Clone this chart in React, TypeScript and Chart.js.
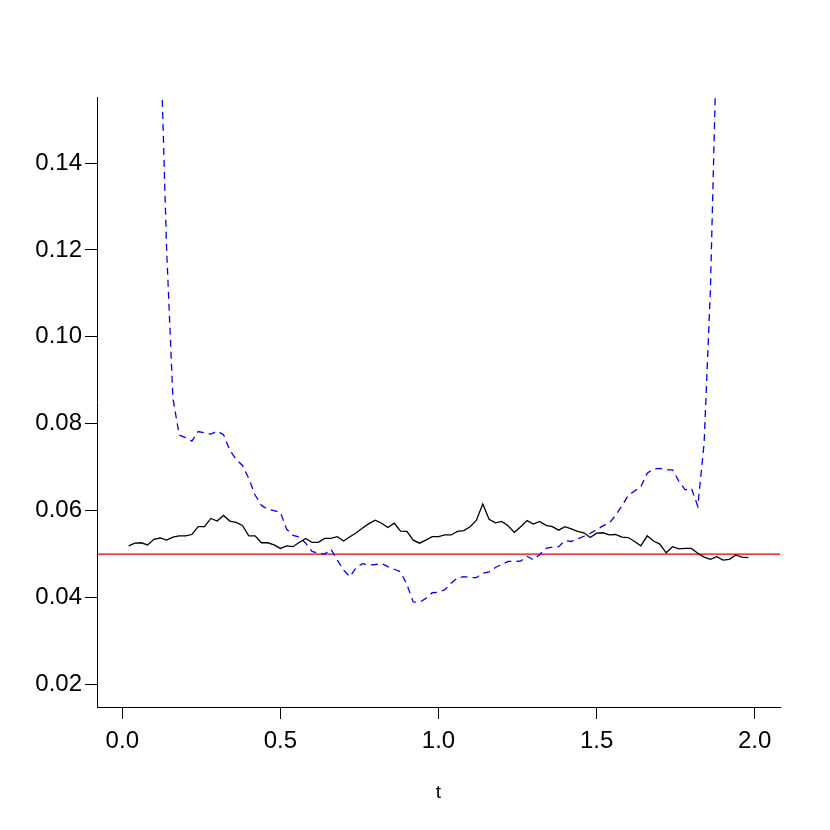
import { useEffect, useRef } from "react";
import { Chart, registerables } from "chart.js";

Chart.register(...registerables);

// time grid (t)
const tGrid = [
  0.02, 0.04, 0.06, 0.08, 0.1, 0.12, 0.14, 0.16, 0.18, 0.2,
  0.22, 0.24, 0.26, 0.28, 0.3, 0.32, 0.34, 0.36, 0.38, 0.4,
  0.42, 0.44, 0.46, 0.48, 0.5, 0.52, 0.54, 0.56, 0.58, 0.6,
  0.62, 0.64, 0.66, 0.68, 0.7, 0.72, 0.74, 0.76, 0.78, 0.8,
  0.82, 0.84, 0.86, 0.88, 0.9, 0.92, 0.94, 0.96, 0.98, 1.0,
  1.02, 1.04, 1.06, 1.08, 1.1, 1.12, 1.14, 1.16, 1.18, 1.2,
  1.22, 1.24, 1.26, 1.28, 1.3, 1.32, 1.34, 1.36, 1.38, 1.4,
  1.42, 1.44, 1.46, 1.48, 1.5, 1.52, 1.54, 1.56, 1.58, 1.6,
  1.62, 1.64, 1.66, 1.68, 1.7, 1.72, 1.74, 1.76, 1.78, 1.8,
  1.82, 1.84, 1.86, 1.88, 1.9, 1.92, 1.94, 1.96, 1.98,
];

// solid black series
const blackVals = [
  0.0519, 0.0525, 0.0526, 0.0521, 0.0534, 0.0537, 0.0532, 0.0539, 0.0542, 0.0542,
  0.0545, 0.0563, 0.0563, 0.0582, 0.0576, 0.0589, 0.0576, 0.0573, 0.0566, 0.0542,
  0.0542, 0.0526, 0.0526, 0.0521, 0.0513, 0.0519, 0.0517, 0.0527, 0.0536, 0.0527,
  0.0527, 0.0536, 0.0536, 0.054, 0.053, 0.054, 0.0549, 0.056, 0.057, 0.0578,
  0.0571, 0.0561, 0.0571, 0.0553, 0.0552, 0.0532, 0.0525, 0.0532, 0.054, 0.054,
  0.0544, 0.0544, 0.0552, 0.0554, 0.0563, 0.0578, 0.0615, 0.058, 0.0572, 0.0575,
  0.0565, 0.055, 0.0563, 0.0577, 0.0569, 0.0575, 0.0566, 0.0563, 0.0555, 0.0563,
  0.0558, 0.0552, 0.0549, 0.0538, 0.0548, 0.0549, 0.0544, 0.0545, 0.0539, 0.0538,
  0.0529, 0.0519, 0.0542, 0.053, 0.0523, 0.0503, 0.0517, 0.0512, 0.0513, 0.0513,
  0.0502, 0.0493, 0.0488, 0.0494, 0.0486, 0.0488, 0.0498, 0.0493, 0.0492,
];

// dashed blue series, starting at t = 0.12
const blueStartIndex = 5;
const blueVals = [
  0.1711, 0.1204, 0.0859, 0.0774, 0.0768, 0.076, 0.0782, 0.0779, 0.0776, 0.0783,
  0.0775, 0.0739, 0.0718, 0.0704, 0.0674, 0.0636, 0.0612, 0.0603, 0.06, 0.0596,
  0.0557, 0.0543, 0.0539, 0.0525, 0.0506, 0.0502, 0.05, 0.0511, 0.0486, 0.0463,
  0.0448, 0.0469, 0.0478, 0.0475, 0.0476, 0.0478, 0.0471, 0.0465, 0.0459, 0.043,
  0.039, 0.0389, 0.0398, 0.0411, 0.0412, 0.0418, 0.0433, 0.0445, 0.0448, 0.0446,
  0.0446, 0.0456, 0.0459, 0.0469, 0.0476, 0.0483, 0.0483, 0.0484, 0.0495, 0.0487,
  0.0499, 0.0513, 0.0516, 0.0517, 0.0531, 0.0529, 0.0535, 0.0541, 0.0548, 0.0556,
  0.0565, 0.0571, 0.0589, 0.0611, 0.0635, 0.0645, 0.0655, 0.0686, 0.0696, 0.0697,
  0.0694, 0.0694, 0.0668, 0.0648, 0.0651, 0.061, 0.0755, 0.111, 0.17,
];

// reference level (red line)
const refLevel = 0.05;

const xTicks = [0, 0.5, 1, 1.5, 2];
const yTicks = [0.02, 0.04, 0.06, 0.08, 0.1, 0.12, 0.14];
const xMin = -0.08;
const xMax = 2.08;
const yMin = 0.0148;
const yMax = 0.1552;

export default function App() {
  const ref = useRef<HTMLCanvasElement>(null);

  useEffect(() => {
    const font = { family: "'Liberation Sans', Arial, Helvetica, sans-serif", size: 24 };
    const chart = new Chart(ref.current!, {
      type: "line",
      data: {
        datasets: [
          {
            data: tGrid.map((t, i) => ({ x: t, y: blackVals[i] })),
            borderColor: "#000000",
            borderWidth: 1.3,
            pointRadius: 0,
            tension: 0,
            fill: false,
          },
          {
            data: blueVals.map((v, i) => ({ x: tGrid[i + blueStartIndex], y: v })),
            borderColor: "#0000FF",
            borderWidth: 1.3,
            borderDash: [7, 5],
            pointRadius: 0,
            tension: 0,
            fill: false,
          },
          {
            data: [
              { x: xMin, y: refLevel },
              { x: xMax, y: refLevel },
            ],
            borderColor: "#E00000",
            borderWidth: 1.3,
            pointRadius: 0,
            fill: false,
          },
        ],
      },
      options: {
        animation: false,
        responsive: false,
        maintainAspectRatio: false,
        layout: { padding: { top: 97, right: 50, left: 0, bottom: 0 } },
        plugins: { legend: { display: false }, tooltip: { enabled: false } },
        scales: {
          x: {
            type: "linear",
            min: xMin,
            max: xMax,
            afterBuildTicks: (s: any) => {
              s.ticks = xTicks.map((v) => ({ value: v }));
            },
            afterFit: (s: any) => {
              s.height = 123;
            },
            grid: { display: true, drawOnChartArea: false, tickLength: 12, color: "#000000", lineWidth: 1 },
            border: { display: true, color: "#000000", width: 1 },
            ticks: {
              color: "#000000",
              font,
              padding: 8,
              maxRotation: 0,
              autoSkip: false,
              callback: (v: any) => Number(v).toFixed(1),
            },
            title: {
              display: true,
              text: "t",
              color: "#000000",
              font: { ...font, size: 19 },
              padding: { top: 26, bottom: 26 },
            },
          },
          y: {
            type: "linear",
            min: yMin,
            max: yMax,
            afterBuildTicks: (s: any) => {
              s.ticks = yTicks.map((v) => ({ value: v }));
            },
            afterFit: (s: any) => {
              s.width = 97;
            },
            grid: { display: true, drawOnChartArea: false, tickLength: 12, color: "#000000", lineWidth: 1 },
            border: { display: true, color: "#000000", width: 1 },
            ticks: {
              color: "#000000",
              font,
              padding: 3,
              autoSkip: false,
              callback: (v: any) => Number(v).toFixed(2),
            },
          },
        },
      },
    });
    return () => chart.destroy();
  }, []);

  return (
    <div style={{ position: "fixed", left: 0, top: 0, width: 830, height: 830, background: "#ffffff" }}>
      <canvas ref={ref} width={830} height={830} style={{ width: 830, height: 830, display: "block" }} />
    </div>
  );
}
